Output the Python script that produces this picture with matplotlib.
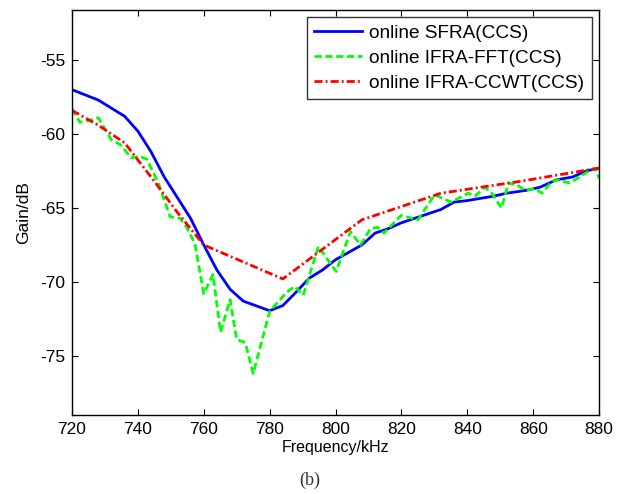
import matplotlib
matplotlib.use('Agg')
from matplotlib import pyplot as plt

plt.rcParams['font.family'] = ['Liberation Sans', 'DejaVu Sans']
plt.rcParams['axes.unicode_minus'] = False

# online SFRA(CCS)
sfra_f = [720, 728, 736, 740, 744, 748, 752, 756, 760, 764, 768, 772, 780, 784, 788, 792,
          796, 800, 804, 808, 812, 816, 820, 824, 832, 836, 840, 848, 852, 858, 862, 867,
          872, 876, 880]
sfra_g = [-57.0, -57.7, -58.8, -59.8, -61.2, -62.9, -64.3, -65.7, -67.5, -69.2, -70.5, -71.3,
          -71.95, -71.6, -70.7, -69.75, -69.2, -68.5, -68.0, -67.5, -66.7, -66.4, -66.0, -65.7,
          -65.1, -64.6, -64.5, -64.2, -64.0, -63.8, -63.6, -63.1, -62.9, -62.5, -62.3]

# online IFRA-FFT(CCS)
fft_f = [720, 722.4, 725, 728, 732, 734.6, 738, 740.5, 742.7, 746.2, 749.8, 752.8, 754.8,
         757.3, 760, 762.8, 765.1, 768, 770, 772.6, 775, 780, 785.2, 787.6, 790.2, 794.8,
         800.2, 804.5, 807.6, 810.6, 812.7, 814.7, 819.9, 825, 830.1, 835, 840.3, 842.3,
         845.4, 847.4, 850.4, 852.5, 855.5, 857.5, 860.6, 862.6, 865.7, 867.7, 870.7, 872.7,
         876.8, 878.8, 880]
fft_g = [-58.3, -59.2, -59.1, -58.9, -60.4, -60.7, -61.6, -61.5, -61.7, -63.3, -65.6, -65.7,
         -66.3, -67.4, -70.8, -69.5, -73.4, -71.2, -73.9, -74.1, -76.2, -72.0, -70.7, -70.3,
         -70.9, -67.6, -69.3, -66.6, -67.5, -66.4, -66.3, -66.7, -65.5, -65.8, -64.1, -64.6,
         -64.0, -64.2, -63.6, -64.0, -65.0, -63.3, -63.5, -63.8, -63.7, -64.0, -63.2, -63.1,
         -63.3, -63.1, -62.5, -62.3, -63.0]

# online IFRA-CCWT(CCS)
ccwt_f = [720, 728, 736, 744, 752, 760, 784, 808, 832, 856, 880]
ccwt_g = [-58.4, -59.4, -60.6, -62.9, -65.3, -67.5, -69.8, -65.8, -64.0, -63.2, -62.3]

fig = plt.figure(figsize=(6.28, 4.94), dpi=100)
ax = fig.add_axes([0.1146, 0.16, 0.8394, 0.82])

ax.plot(sfra_f, sfra_g, color='#0000ff', lw=2, label='online SFRA(CCS)')
ax.plot(fft_f, fft_g, color='#00ff00', lw=2, ls='--', dashes=(2.6, 1.3), label='online IFRA-FFT(CCS)')
ax.plot(ccwt_f, ccwt_g, color='#ff0000', lw=2, ls='-.', dashes=(2.9, 1.1, 0.7, 1.1), label='online IFRA-CCWT(CCS)')

ax.set_xlim(720, 880)
ax.set_ylim(-79.0, -51.6)
ax.set_xticks(range(720, 881, 20))
ax.set_yticks([-75, -70, -65, -60, -55])
ax.tick_params(direction='in', top=True, right=True, labelsize=12.5, length=4, width=0.8, pad=5)
for s in ax.spines.values():
    s.set_linewidth(1.0)

ax.set_xlabel('Frequency/kHz', fontsize=11.5, labelpad=2)
ax.set_ylabel('Gain/dB', fontsize=12.5, labelpad=6)

leg = ax.legend(loc='upper right', fontsize=13.7, frameon=True, fancybox=False,
                borderaxespad=0.37, handlelength=2.5, labelspacing=0.4, borderpad=0.4,
                handletextpad=0.4)
leg.get_frame().set_edgecolor('black')
leg.get_frame().set_linewidth(1.0)

fig.text(0.494, 0.028, '(b)', fontsize=13, family='Liberation Serif', ha='center', va='center', color='#333333')

fig.savefig('out.png', dpi=100)
